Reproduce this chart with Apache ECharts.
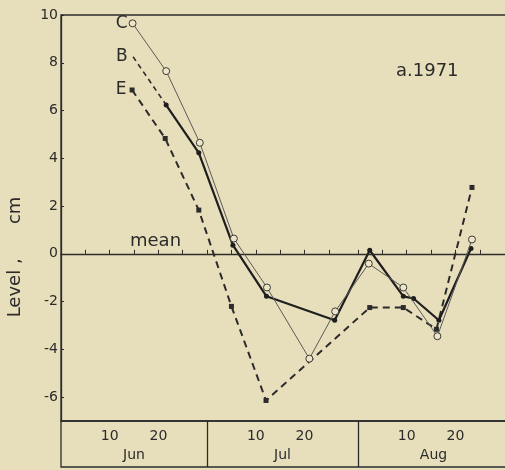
<!DOCTYPE html>
<html>
<head>
<meta charset="utf-8">
<script src="https://cdn.jsdelivr.net/npm/echarts@6/dist/echarts.min.js"></script>
<style>
html,body{margin:0;padding:0;background:#e7dfbb;}
#chart{width:505px;height:470px;}
</style>
</head>
<body>
<div id="chart"></div>
<script>
// x values: days counted from May 31 (Jun d = d, Jul d = 30 + d, Aug d = 61 + d)
var cDays   = [14.7, 21.6, 28.5, 35.5, 42.3, 51.0, 56.3, 63.2, 70.3, 77.3, 84.4];
var cLevels = [9.65, 7.65, 4.65, 0.64, -1.41, -4.39, -2.41, -0.41, -1.41, -3.45, 0.60];

var bEstDays   = [14.8, 21.6];
var bEstLevels = [8.25, 6.23];
var bDays   = [21.6, 28.3, 35.3, 42.2, 56.2, 63.4, 70.3, 72.4, 77.6, 84.2];
var bLevels = [6.23, 4.23, 0.36, -1.78, -2.78, 0.15, -1.78, -1.87, -2.78, 0.22];

var eDays   = [14.6, 21.4, 28.3, 35.0, 42.1, 63.4, 70.3, 77.1, 84.4];
var eLevels = [6.86, 4.83, 1.83, -2.20, -6.14, -2.25, -2.25, -3.16, 2.78];

var yTickValues = [-6, -4, -2, 0, 2, 4, 6, 8, 10];
var dayTickValues = [5, 10, 15, 20, 25, 30, 35, 40, 45, 50, 55, 61, 66, 71, 76, 81, 86];
var dayLabelValues = [10, 20, 40, 50, 71, 81];
var dayLabelTexts  = ['10', '20', '10', '20', '10', '20'];
var monthDividers = [30, 61];
var monthCenters = [15, 45.5, 76.5];
var monthNames = ['Jun', 'Jul', 'Aug'];

var FONT = 'DejaVu Sans';
var INK = '#2b2b2b';

function pairs(xs, ys) { return xs.map(function (x, i) { return [x, ys[i]]; }); }
function withStartLabel(data, text, dist, hideSymbol) {
  var first = { value: data[0], label: { show: true, formatter: text, position: 'left', distance: dist,
      fontFamily: FONT, fontSize: 17, color: INK } };
  if (hideSymbol) { first.symbolSize = 2; first.itemStyle = { color: 'transparent', borderColor: 'transparent' }; }
  return [first].concat(data.slice(1));
}

var chart = echarts.init(document.getElementById('chart'), null, { renderer: 'canvas' });
chart.setOption({
  backgroundColor: '#e7dfbb',
  animation: false,
  title: {
    text: 'a.1971', left: 396, top: 62, padding: 0,
    textStyle: { fontFamily: FONT, fontSize: 18, fontWeight: 'normal', color: INK }
  },
  grid: [
    { left: 61, top: 15, width: 448, height: 406, outerBoundsMode: 'none', containLabel: false,
      show: true, borderColor: INK, borderWidth: 1.3, backgroundColor: 'transparent' },
    { left: 61, top: 421, width: 448, height: 46, outerBoundsMode: 'none', containLabel: false,
      show: true, borderColor: INK, borderWidth: 1.3, backgroundColor: 'transparent' }
  ],
  xAxis: [
    {
      gridIndex: 0, type: 'value', min: 0, max: 92,
      axisLine: { show: true, lineStyle: { color: INK, width: 1.3 } },
      axisTick: { show: true, inside: true, length: 4, customValues: dayTickValues, lineStyle: { color: INK } },
      axisLabel: {
        show: true, customValues: dayLabelValues, margin: 8,
        fontFamily: FONT, fontSize: 14, color: INK,
        formatter: function (v) { var i = dayLabelValues.indexOf(v); return i >= 0 ? dayLabelTexts[i] : ''; }
      },
      splitLine: { show: false }
    },
    {
      gridIndex: 1, type: 'value', min: 0, max: 92,
      axisLine: { show: false },
      axisTick: { show: false },
      axisLabel: {
        show: true, inside: true, customValues: monthCenters, margin: 5,
        fontFamily: FONT, fontSize: 14, color: INK,
        formatter: function (v) { var i = monthCenters.indexOf(v); return i >= 0 ? monthNames[i] : ''; }
      },
      splitLine: { show: false }
    }
  ],
  yAxis: [
    {
      gridIndex: 0, type: 'value', min: -7, max: 10,
      name: 'Level ,      cm', nameLocation: 'middle', nameGap: 37, nameRotate: 90,
      nameTextStyle: { fontFamily: FONT, fontSize: 18, color: INK, padding: [0, 78, 0, 0] },
      axisLine: { show: true, lineStyle: { color: INK, width: 1.3 } },
      axisTick: { show: true, inside: true, length: 3, customValues: yTickValues, lineStyle: { color: INK } },
      axisLabel: { show: true, customValues: yTickValues, margin: 3, fontFamily: FONT, fontSize: 14, color: INK },
      splitLine: { show: false }
    },
    {
      gridIndex: 1, type: 'value', min: 0, max: 1,
      axisLine: { show: false }, axisTick: { show: false }, axisLabel: { show: false }, splitLine: { show: false }
    }
  ],
  series: [
    {
      name: 'dividers', type: 'line', xAxisIndex: 1, yAxisIndex: 1, data: [], silent: true,
      markLine: {
        symbol: 'none', silent: true, animation: false,
        label: { show: false },
        lineStyle: { color: INK, width: 1.3, type: 'solid' },
        data: monthDividers.map(function (d) { return { xAxis: d }; })
      }
    },
    {
      name: 'E', type: 'line', xAxisIndex: 0, yAxisIndex: 0,
      data: withStartLabel(pairs(eDays, eLevels), 'E', 3, false),
      symbol: 'rect', symbolSize: 5, z: 3,
      lineStyle: { color: INK, width: 2, type: [7, 5] },
      itemStyle: { color: INK },
      markLine: {
        symbol: 'none', silent: true, animation: false,
        lineStyle: { color: INK, width: 1.2, type: 'solid' },
        label: { show: true, formatter: 'mean', position: 'insideStartTop', distance: [69, 3],
          fontFamily: FONT, fontSize: 18, color: INK },
        data: [{ yAxis: 0 }]
      }
    },
    {
      name: 'B est', type: 'line', xAxisIndex: 0, yAxisIndex: 0,
      data: withStartLabel(pairs(bEstDays, bEstLevels), 'B', 4, true),
      symbol: 'circle', symbolSize: 1, showSymbol: true, z: 3,
      lineStyle: { color: INK, width: 1.6, type: [5, 4] },
      itemStyle: { color: 'transparent' }
    },
    {
      name: 'B', type: 'line', xAxisIndex: 0, yAxisIndex: 0,
      data: pairs(bDays, bLevels),
      symbol: 'circle', symbolSize: 5, z: 4,
      lineStyle: { color: '#1e1e1e', width: 2.2 },
      itemStyle: { color: '#1e1e1e' }
    },
    {
      name: 'C', type: 'line', xAxisIndex: 0, yAxisIndex: 0,
      data: withStartLabel(pairs(cDays, cLevels), 'C', 1, false),
      symbol: 'circle', symbolSize: 7, z: 5,
      lineStyle: { color: '#5a5a5a', width: 1 },
      itemStyle: { color: '#ece5c6', borderColor: '#3a3a3a', borderWidth: 1 }
    }
  ]
});
</script>
</body>
</html>
